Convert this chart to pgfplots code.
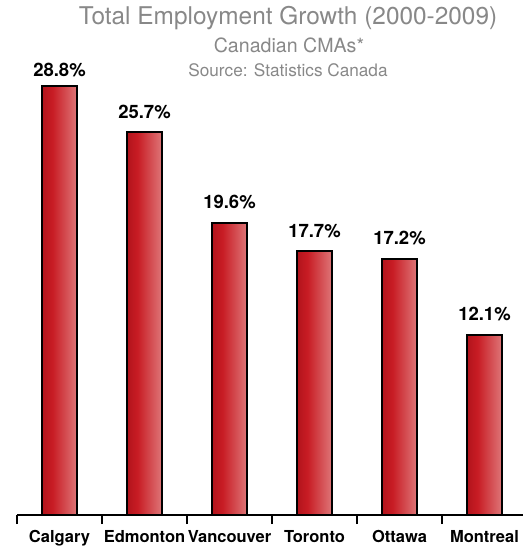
\documentclass[border=0pt]{standalone}
\usepackage{pgfplots}
\pgfplotsset{compat=1.18}
\usepackage{pgfplotstable}
\usepackage{fontspec}
\setmainfont{TeX Gyre Heros}
\definecolor{titlegray}{RGB}{136,136,136}
\definecolor{barA}{RGB}{178,20,28}
\definecolor{barB}{RGB}{200,28,36}
\definecolor{barC}{RGB}{222,118,120}
\pgfdeclarehorizontalshading{barshade}{100bp}{color(0bp)=(barA); color(25bp)=(barA); color(40bp)=(barB); color(75bp)=(barC); color(100bp)=(barC)}
\pgfplotstableread{
x y off
0 28.8 9
1 25.7 14
2 19.6 14
3 17.7 14
4 17.2 14
5 12.1 14
}\growth
\begin{document}
\begin{tikzpicture}
\useasboundingbox (0,0) rectangle (523pt,548pt);
\node[anchor=base, text=titlegray, font=\fontsize{24.4}{28}\selectfont] at (288pt,523pt) {Total Employment Growth (2000-2009)};
\node[anchor=base, text=titlegray, font=\fontsize{19.6}{23}\selectfont] at (289pt,495pt) {Canadian CMAs*};
\node[anchor=base, text=titlegray, font=\fontsize{17.2}{20}\selectfont] at (288pt,471pt) {Source: Statistics Canada};
\begin{axis}[
  at={(17pt,33pt)}, anchor=south west,
  scale only axis, width=506pt, height=447pt,
  xmin=-0.5, xmax=5.453, ymin=0, ymax=30,
  axis x line*=bottom, axis y line=none,
  x axis line style={line width=2pt, -},
  xtick={0,1,2,3,4,5},
  xticklabels={Calgary,Edmonton,Vancouver,Toronto,Ottawa,Montreal},
  major x tick style={draw=none},
  minor xtick={-0.5,0.5,1.5,2.5,3.5,4.5},
  minor tick length=9pt,
  tick align=outside,
  minor x tick style={line width=2pt, black},
  xticklabel style={font=\bfseries\fontsize{16.5}{19}\selectfont, anchor=base, yshift=-23pt, inner sep=0pt},
  /pgf/number format/assume math mode=true,
  ybar, bar width=35pt, bar shift=0pt,
  clip=false,
  visualization depends on={\thisrow{off} \as \off},
  nodes near coords={\pgfmathprintnumber[fixed,fixed zerofill,precision=1,assume math mode=true]{\pgfplotspointmeta}\%},
  nodes near coords style={anchor=base, yshift=\off pt, inner sep=0pt, font=\bfseries\fontsize{18.5}{22}\selectfont, text=black},
]
\pgfplotsinvokeforeach{0,1,2,3,4,5}{
  \addplot[draw=black, line width=2pt, shading=barshade, restrict x to domain=#1:#1] table[x=x, y=y] {\growth};
}
\end{axis}
\end{tikzpicture}
\end{document}
